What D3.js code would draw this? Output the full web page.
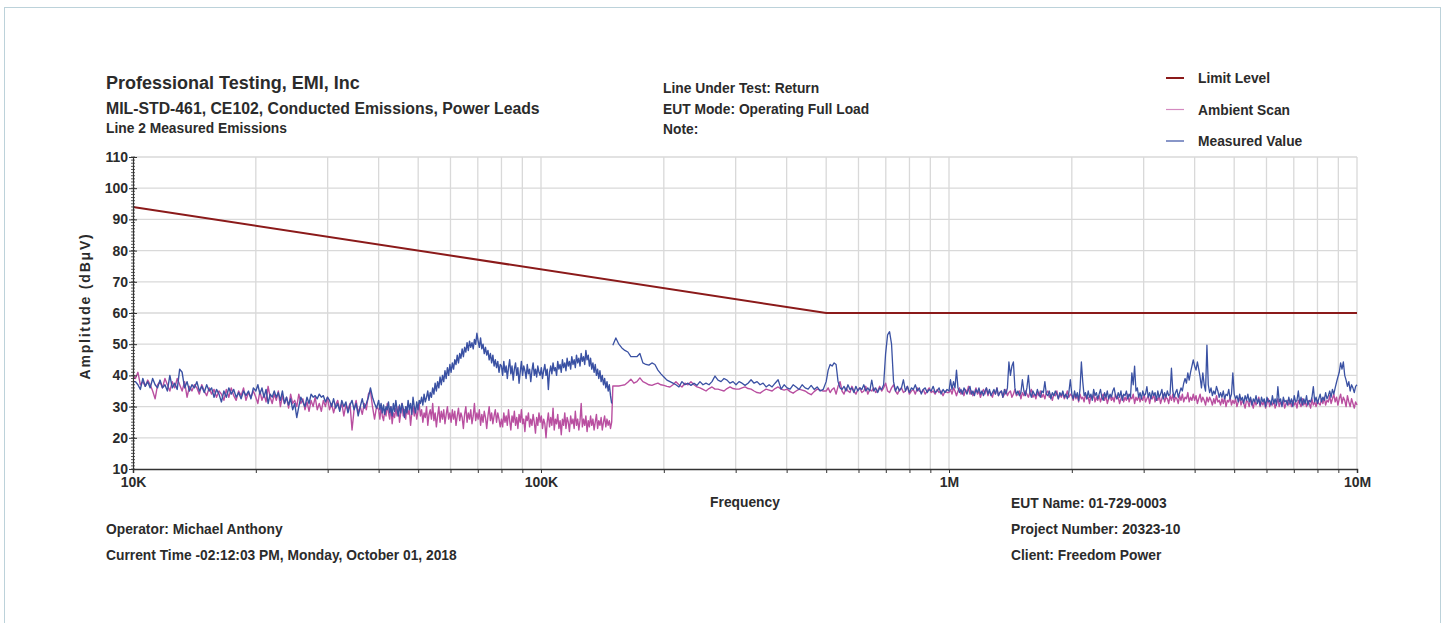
<!DOCTYPE html>
<html><head><meta charset="utf-8">
<script src="https://cdn.jsdelivr.net/npm/d3@7"></script>
<style>
body{margin:0;background:#fff}
svg{display:block}
text{font-family:"Liberation Sans",Arial,sans-serif;font-weight:bold;fill:#2b2b2b}
</style>
</head><body>
<svg id="chart" width="1447" height="623"></svg>
<script>
// ---------------- DATA ----------------
// Sweep segment edges (Hz); each segment's readings are spread across its span.
const segmentEdges = [10e3, 20e3, 40e3, 80e3, 150e3, 500e3, 1e6, 2e6, 4e6, 10e6];

const limitFreq  = [10e3, 500e3, 10e6];
const limitLevel = [94, 60, 60];

const yTickValues = [10, 20, 30, 40, 50, 60, 70, 80, 90, 100, 110];
const xDecades = [1e4, 1e5, 1e6, 1e7];
const xDecadeLabels = ["10K", "100K", "1M", "10M"];

// Measured Value (dBµV)
const measuredSeg1 = [
38,38,37,35.5,39,36.5,38,36,39,37,
36,38.5,36,37,35,40,36,37.5,35.5,42,
41,36,38,35,37,36,38,35,36.5,34.5,
37,35,36,33,35.5,34,31.5,35,33,36,
34,35.5,33,34.5,32.5,35,33.5,35,32.5,36];
const measuredSeg2 = [
35,37,34,36,33,35.5,31,34,33,35,
33,34.5,32,35,31,33,30.5,32.5,29,31,
26.5,30,33,31.5,30,33,31,34,33,33.5,
32.5,34,33,33.5,31.5,33,32,30,32.5,29.5,
31,28.5,32,30,31.5,28,30.5,32,29,31,
27,30,32.5,29.5,31,33,36,33,31,29.5];
const measuredSeg3 = [
32,29,31,28,30.5,27.5,30,29,31.5,28,
30,27,31,28.5,32,29,27,30.5,28,31,
29.5,26.5,30,28,32,29,31,27.5,33,30,
28,31.5,29,32,
31,33,30.5,34,31.5,33,35,32,34.5,33,
36,34,37.5,35,38,36,39.5,37,40,38,
41.5,39,42.5,40,43.5,41,44,
42,45,43.5,46.5,44,47,45.5,48.5,46,49,
47.5,50.5,48,51,49,50.5,48.5,51.5,50,53.5,
51,49,52,48.5,50,47,49,46.5,48,45,
47,44,46.5,43,45,42.5,44.5,41,43.5];
const measuredSeg4 = [
43,40,44.5,41,43,39,42.5,45,40.5,43,
38.5,42,44,40,42.5,37.5,41,44.5,40,43,
41.5,39,43.5,40.5,42,38,41.5,44,40,42,
39.5,43,41,40,
42.5,39,41.5,43.5,40,42,35.5,41,43,40.5,
44,41.5,42.5,40,44.5,42,43.5,41,45,42.5,
44,41.5,45.5,43,44.5,42,46,43.5,45,42.5,
46.5,44,45.5,43,47,44.5,46,43.5,48,45,
46.5,43,45.5,42,44,41,43.5,40,42,39,
41.5,38,40,37,39,36,38,35,37,33.5,31];
const measuredSeg5 = [
49.7,52,50,48.8,48,47.5,46,46,46,47,
44,43.5,43.3,44,43.5,41.7,40.5,39.5,38.5,38,
37.5,37,36.3,38,37,37.5,36.8,37.5,36.8,38,
37,37.5,37,38,39.8,38.5,38,39,38.5,37.5,
38,37,38,37.5,36.8,37.5,38.6,37.5,38,37,
37.5,36.3,37,36.3,37.5,38.6,35.6,37,36,35.6,
37,36.3,35.5,37,36,35.6,36.8,35.5,36.3,35,35.5];
const measuredSeg6 = [
38,41.7,43.5,43,44,43.5,38,36,35.5,36.5,
35,37,35.5,36,34.5,36.5,35,36,35.5,37,
35,36,35,38.5,35,36,34.5,36,35.5,37,
47,53,54,50,38,35,36.5,35,36,38.6,
35,36.5,34.5,36,35.5,37,35,36,34,35.5,
36,34.5,35.5,35,36.5,34.5,35,36,34,35.5,
34.5,35.5];
const measuredSeg7 = [
35,38.6,35.5,38,36,41.7,36,34.5,35.5,34,
36,35,34,35.5,36.5,34,35,33.5,35.5,34.5,
36,34,35,33.5,35,36,34,35.5,33.5,34.5,
35.5,34,36,33.5,34.5,35,33,35.5,34,36,
44.3,40,43,44.3,36,34,35,33.5,34.5,38.6,
35,33.5,36,40,34.5,33,35,34,33.5,35.5,
34,33,35,34.5,38,34,33.5,35,32.5,34.5,
33.5,35,34,32.5,34.5,33.5,35,33,34,32.5,34.5,38.6];
const measuredSeg8 = [
34,32.5,35,33,34.5,32,35.5,44.3,38,33.5,
34.5,32.5,35,33,34,32,35.5,33.5,34.5,32.5,
34,35.5,33,32,34.5,33,35,32.5,34,33,
35,36,33.5,32.5,34.5,33,35,32,34,33.5,
35,32.5,34,33,40.8,37,43,35,36,33,
34.5,32.5,35,33.5,34,36.4,33,34.5,32.5,35,
33.5,34.5,32,35,33,34,35.5,32.5,34.5,33,
35,33.5,34,42.3,35,33,34.5,35.5,33,34.5,
36,35,37.5,39,37.5,40.8,38.5,41,43,45];
const measuredSeg9 = [
43,41.7,44.3,42,39.5,36,40.8,37,35,49.7,
37,34.5,36,33.5,35,34,36.5,35,33,34.5,
33,35,32.5,34,33.5,35.5,32.5,34,40.8,34,
32.5,33.5,31.5,34,32,33,31,33.5,32,34,
31.5,33,30.5,32.5,31.5,33.5,31,32.5,30.5,33,
31.5,32.5,30,33,31.5,32,30.5,33.5,31,32.5,
30.5,36.4,31.5,32.5,30,33,31.5,32,30.5,33,
31,32.5,30,33.5,31.5,32,35,31,33,30.5,
32.5,31,33.5,30.5,32,31.5,33,36.4,31.5,33,
31,32.5,34,31.5,33,32,34.5,32.5,33.5,35,
33,35.5,34,36,37.8,39.5,41,44,42,44.3,
40,38.5,36.5,38,35,37,36,34.5,36.5,37];

// Ambient Scan (dBµV)
const ambientSeg1 = [
40,39,41,37,38,36.5,38.5,37,35,32.5,
37,38,36,39,37,35,38,36,39,37,
35,38,33,36.5,35,37,36,34,37,35,
33.5,36,34,35.5,33,35,34,32,35.5,33,
36,33.5,32,35,33.5,36,32,34.5,33,35];
const ambientSeg2 = [
33,31,35,32,34,31.5,36.5,33,31,34,
32,35,30,33.5,31,33,29.5,34,31,32,
30,34,31,32.5,29,31.5,28.5,32,30,33,
29,31,28.5,32,30,33,29,31,28,30.5,
32,29,31,27,30.5,29,31,22.5,29,32,
28,30,27.5,31,29,34,35,30,26,30];
const ambientSeg3 = [
29,26,30,27,25.5,29,27,31,28,26,
30,24.5,28,26.5,29.5,27,30,25,28,31,
27,29,26,30,27.5,29,24,28,30,27,
29.5,26,28.5,31,
27,29,25,28,26.5,30,24,27.5,29,26,
31,25.5,28,23.5,27,30,25,28.5,26,29,
24.5,27.5,30,26,28,25,29,
26,28.5,24,27,29.5,25.5,28,26.5,23,27.5,
30,25,28,26,29,24.5,27,31,25.5,28,
26,29,24,27.5,25,28.5,26.5,23,27,30,
25.5,28,24.5,27,29,25,28,26,23.5];
const ambientSeg4 = [
26,23.5,28,25,27,24,29,25.5,22.5,27,
25,28.5,24,26.5,23,27.5,25,29,24.5,26,
22,27,25.5,28,23.5,26,24,27.5,25,21.5,
26.5,24,28,25,
27,23,26,24.5,20,25,28,23.5,26.5,24,
29.5,22.5,26,24.5,27.5,23,25.5,21,26,24,
28,23,26.5,25,22,27,24.5,26,23,28.5,
24,26,22.5,25.5,31,23.5,26,24,27,22,
25.5,23.5,27,24,26,22.5,25,27.5,23,25.5,
24,26.5,22.5,25,27,23.5,26,24,25.5,23,25];
const ambientSeg5 = [
36.6,36.6,36.6,36.8,37,37.8,38.8,37.5,38,39.2,
38,37.5,37,36.8,37.2,37.5,37,36.8,36.5,36.3,
37,38,37,36.3,37.5,37,38,37,36.3,36,
35.5,35,35.8,36.3,35.6,35.6,35.3,35,35.8,36.3,
35.8,35.6,35.6,36,36.3,35.8,35.6,35,34.5,34.3,
35,35.6,35.3,35,35.8,36.3,35.6,35.3,35.6,34.8,
34.3,35,35.6,35.3,35,34.3,33.8,34.8,35.6,35.3,35];
const ambientSeg6 = [
35,36,34.5,35.5,36,34,36.5,38,35,34,
36,35,34.5,36.5,35,34,35.5,36,34.5,35,
36.5,34,35.5,35,36,34.5,35,36.5,35,36,
37.5,35,34.5,36,37,35,34,35.5,36,34.5,
35,36.5,34,35,35.5,34,36,35,34.5,35.5,
34,35,36,34.5,35,34,35.5,34.5,35,33.5,
35,34.5];
const ambientSeg7 = [
34.5,35.5,34,36,35,33.5,35,36,34,35,
33.5,35.5,34.5,36.5,34,35,33.5,34.5,36,34,
35,33,34.5,35.5,34,36,33.5,35,34,33,
35,34,36,33.5,34.5,35,33,34,35.5,33.5,
34.5,35,33,34,35.5,33.5,34,35,32.5,34.5,
33.5,35,34,33,34.5,35.5,33,34,32.5,34.5,
33.5,35,33,34,32.5,34.5,35,33,34,32,
34,33.5,35,32.5,34,33,34.5,32.5,33.5,35,33,34];
const ambientSeg8 = [
33.5,32,34,32.5,33.5,31.5,34,32.5,33,31.5,
34,32.5,33,31,33.5,32.5,34,31.5,33,32,
33.5,31.5,33,34,32,33.5,31,32.5,33.5,32,
33,31.5,34,32.5,33,31,32.5,33.5,31.5,33,
32,34,31.5,33,32.5,34,31,33,32,33.5,
31.5,33,32,34,31.5,32.5,33.5,31,33,32.5,
34,31.5,33,32,33.5,31,32.5,34,31.5,33,
32.5,31,33.5,32,34,31.5,33,32.5,31,33.5,
32,34,31.5,33,32.5,34.5,31.5,33,32,34];
const ambientSeg9 = [
32,33.5,31,32.5,34,31.5,33,32,30.5,33,
31.5,33,32,30.5,32.5,31,33.5,31.5,32,30.5,
32.5,31,33,30,32,31.5,33,30.5,32,31,
32.5,30,31.5,33,30.5,32,31,29.5,32,31.5,
30,32.5,31,29.5,32,30.5,31.5,33,30,31.5,
30.5,32,29.5,31,32.5,30,31.5,30.5,32,29.5,
31,32.5,30,31.5,30.5,32,29.5,31,32,30.5,
31.5,30,32,30.5,31.5,29.5,32,31,30,32.5,
30.5,31.5,30,32,31,29.5,32.5,30.5,31.5,30,
32,31,30.5,32.5,31,33,30.5,32,31.5,33.5,
31,32.5,34,31.5,33,30.5,32.5,34,31,33,
32,30,33.5,31.5,30,32.5,31,29.5,31.5,30.5];

const measuredLowSegs  = [measuredSeg1, measuredSeg2, measuredSeg3, measuredSeg4];
const measuredHighSegs = [measuredSeg5, measuredSeg6, measuredSeg7, measuredSeg8, measuredSeg9];
const ambientSegs = [ambientSeg1, ambientSeg2, ambientSeg3, ambientSeg4, ambientSeg5,
                     ambientSeg6, ambientSeg7, ambientSeg8, ambientSeg9];

// ---------------- CHART ----------------
const COLORS = {limit:"#8b1a1a", ambient:"#b94fa0", measured:"#3a51a3", grid:"#d9d9d9", text:"#2b2b2b"};
const svg = d3.select("#chart");

// page frame
svg.append("rect").attr("x",4.5).attr("y",7.5).attr("width",1436).attr("height",640)
  .attr("fill","none").attr("stroke","#bcd2da").attr("stroke-width",1);

const x = d3.scaleLog().domain([1e4, 1e7]).range([133, 1357]);
const y = d3.scaleLinear().domain([10, 110]).range([469, 157]);

function buildPoints(segs, firstSeg) {
  const pts = [];
  const lastSegIndex = segmentEdges.length - 2;
  segs.forEach((vals, k) => {
    const s = firstSeg + k;
    const a = segmentEdges[s], b = segmentEdges[s + 1];
    const n = vals.length;
    vals.forEach((v, i) => {
      const t = (s === lastSegIndex) ? i / (n - 1) : i / n;
      pts.push([a * Math.pow(b / a, t), v]);
    });
  });
  return pts;
}

// grid
const logTicks = [];
for (let d = 1e4; d < 1e7; d *= 10) for (let k = 1; k < 10; k++) logTicks.push(d * k);
logTicks.push(1e7);
const grid = svg.append("g");
grid.selectAll("line.v").data(logTicks.slice(1)).join("line")
  .attr("x1", d => x(d)).attr("x2", d => x(d)).attr("y1", y(110)).attr("y2", y(10))
  .attr("stroke", COLORS.grid).attr("stroke-width", 1.3);
grid.selectAll("line.h").data(yTickValues.slice(1)).join("line")
  .attr("x1", x(1e4)).attr("x2", x(1e7)).attr("y1", d => y(d)).attr("y2", d => y(d))
  .attr("stroke", COLORS.grid).attr("stroke-width", 1.3);

// series
const line = d3.line().x(d => x(d[0])).y(d => y(d[1]));
svg.append("path").datum(buildPoints(ambientSegs, 0))
  .attr("d", line).attr("fill","none").attr("stroke", COLORS.ambient).attr("stroke-width",1.4)
  .attr("stroke-linejoin","round");
svg.append("path").datum(buildPoints(measuredLowSegs, 0))
  .attr("d", line).attr("fill","none").attr("stroke", COLORS.measured).attr("stroke-width",1.4)
  .attr("stroke-linejoin","round");
svg.append("path").datum(buildPoints(measuredHighSegs, 4))
  .attr("d", line).attr("fill","none").attr("stroke", COLORS.measured).attr("stroke-width",1.3)
  .attr("stroke-linejoin","round");
svg.append("path").datum(limitFreq.map((f, i) => [f, limitLevel[i]]))
  .attr("d", line).attr("fill","none").attr("stroke", COLORS.limit).attr("stroke-width",2);

// axes
const yAxis = d3.axisLeft(y).tickValues(yTickValues).tickSize(4).tickPadding(1).tickFormat(d3.format("d"));
const gy = svg.append("g").attr("transform", `translate(${x(1e4)},0)`).call(yAxis);
gy.select(".domain").attr("stroke","#333").attr("stroke-width",1.2);
gy.selectAll(".tick line").attr("stroke","#333").attr("x2",-4).attr("x1",4);
gy.selectAll("text").attr("font-size",14).attr("fill",COLORS.text)
  .attr("font-family","Liberation Sans, Arial, sans-serif").attr("font-weight","bold");
gy.append("g").selectAll("line").data(d3.range(10, 111, 1)).join("line")
  .attr("x1",-2).attr("x2",2).attr("y1", d => y(d)).attr("y2", d => y(d))
  .attr("stroke","#333").attr("stroke-width",0.8);

const xAxis = d3.axisBottom(x).tickValues(logTicks).tickSize(4).tickPadding(4)
  .tickFormat(d => { const i = xDecades.indexOf(d); return i >= 0 ? xDecadeLabels[i] : ""; });
const gx = svg.append("g").attr("transform", `translate(0,${y(10)})`).call(xAxis);
gx.select(".domain").attr("stroke","#333").attr("stroke-width",1.5);
gx.selectAll(".tick line").attr("stroke","#333");
gx.selectAll("text").attr("font-size",14).attr("fill",COLORS.text)
  .attr("font-family","Liberation Sans, Arial, sans-serif").attr("font-weight","bold");

// titles and notes
function txt(t, px, py, size, anchor) {
  return svg.append("text").attr("x", px).attr("y", py).attr("font-size", size)
    .attr("text-anchor", anchor || "start").text(t);
}
txt("Professional Testing, EMI, Inc", 106, 89, 18);
txt("MIL-STD-461, CE102, Conducted Emissions, Power Leads", 106, 114, 15.8);
txt("Line 2 Measured Emissions", 106, 133, 13.8);
txt("Line Under Test: Return", 663, 93, 13.8);
txt("EUT Mode: Operating Full Load", 663, 114, 13.8);
txt("Note:", 663, 134, 13.8);
txt("Frequency", 745, 507, 13.8, "middle");
txt("EUT Name: 01-729-0003", 1011, 508, 13.8);
txt("Project Number: 20323-10", 1011, 534, 13.8);
txt("Client: Freedom Power", 1011, 560, 13.8);
txt("Operator: Michael Anthony", 106, 534, 13.8);
txt("Current Time -02:12:03 PM, Monday, October 01, 2018", 106, 560, 13.8);
svg.append("text").attr("transform","translate(90,306) rotate(-90)")
  .attr("text-anchor","middle").attr("font-size",14).attr("letter-spacing","1.8px")
  .text("Amplitude (dBμV)");

// legend
const legendNames = ["Limit Level", "Ambient Scan", "Measured Value"];
const legendColors = [COLORS.limit, "#d48ac0", COLORS.measured];
const legendWidths = [2, 1.2, 1.2];
const lg = svg.append("g");
legendNames.forEach((name, i) => {
  const ly = 78 + i * 31.5;
  lg.append("line").attr("x1",1166).attr("x2",1184).attr("y1",ly).attr("y2",ly)
    .attr("stroke", legendColors[i]).attr("stroke-width", legendWidths[i]);
  lg.append("text").attr("x",1198).attr("y",ly + 5).attr("font-size",13.8).text(name);
});
</script>
</body></html>
